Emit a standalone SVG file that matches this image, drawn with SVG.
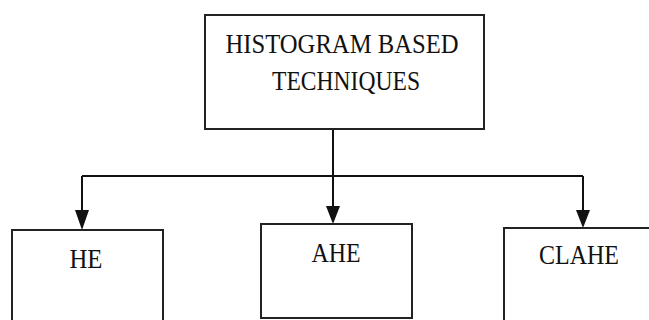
<svg xmlns="http://www.w3.org/2000/svg" width="649" height="320" viewBox="0 0 649 320">
<style>
.box{fill:#fff;stroke:#222;stroke-width:2}
.lbl{font-family:"Liberation Serif","Times New Roman",serif;font-size:27px;fill:#111;text-anchor:middle}
.con{fill:none;stroke:#111;stroke-width:2}
.head{fill:#111}
</style>
<rect width="649" height="320" fill="#fff"/>
<g id="connectors">
<path class="con" d="M333,129 V176"/>
<path class="con" d="M82,176 H583"/>
<path class="con" d="M82,176 V210"/>
<path class="con" d="M333,176 V206"/>
<path class="con" d="M583,176 V210"/>
<path class="head" d="M75,210 L89,210 L82,230 Z"/>
<path class="head" d="M326,206 L340,206 L333,224 Z"/>
<path class="head" d="M576,210 L590,210 L583,228 Z"/>
</g>
<g id="root">
<rect class="box" x="205" y="15" width="279" height="114"/>
<text class="lbl" x="342" y="53" textLength="233" lengthAdjust="spacingAndGlyphs">HISTOGRAM BASED</text>
<text class="lbl" x="346" y="90" textLength="148" lengthAdjust="spacingAndGlyphs">TECHNIQUES</text>
</g>
<g id="he">
<rect class="box" x="12" y="230" width="151" height="100"/>
<text class="lbl" x="86" y="268" textLength="33" lengthAdjust="spacingAndGlyphs">HE</text>
</g>
<g id="ahe">
<rect class="box" x="261" y="224" width="151" height="94"/>
<text class="lbl" x="336" y="262" textLength="49" lengthAdjust="spacingAndGlyphs">AHE</text>
</g>
<g id="clahe">
<rect class="box" x="504" y="228" width="160" height="100"/>
<text class="lbl" x="579" y="264" textLength="80" lengthAdjust="spacingAndGlyphs">CLAHE</text>
</g>
</svg>
